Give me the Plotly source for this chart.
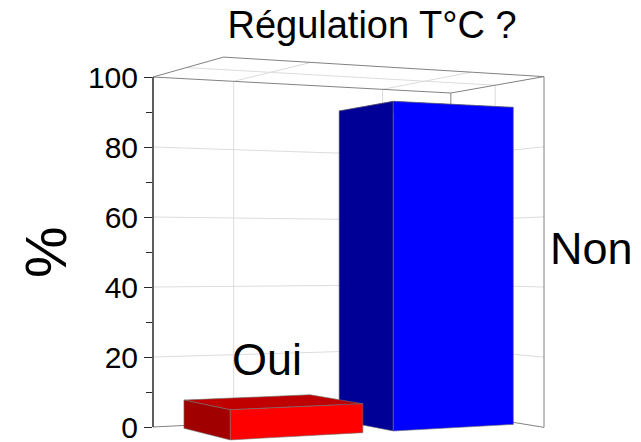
import math
import plotly.graph_objects as go

# data
categories = ["Oui", "Non"]
values = [8, 92]
y_ticks = [0, 20, 40, 60, 80, 100]
y_minor = [10, 30, 50, 70, 90]
chart_title = "Régulation T°C ?"
y_title = "%"

FACE_COLORS = {
    "Oui": ("rgb(255,0,0)", "rgb(160,0,0)", "rgb(192,0,0)"),    # front, side, top
    "Non": ("rgb(0,0,255)", "rgb(0,0,150)", "rgb(0,0,192)"),
}

W, H = 641, 442
AX_X = 153          # pixel column of the value axis
PX0, PPU = 427, 3.5 # pixel of value 0 and pixels per unit on that axis

# camera (level, two point perspective)
F = 1638.0
U0 = 350.0
CZ = 48.0
VH = PX0 - PPU * CZ
ALPHA = math.radians(27.2)
CA, SA = math.cos(ALPHA), math.sin(ALPHA)

# box in world units
XW, YD, ZTOP = 98.8, 51.9, 100
A_L, A_D = (AX_X - U0) / PPU, F / PPU
B_L, B_D = A_L + YD * SA, A_D - YD * CA

BAR_X = [26.4, 75.7]
BAR_W = 39.7
BAR_Y = (11.0, 44.5)
GRID_X = [25.0, 74.5]


def proj(X, Y, Z):
    l = B_L + X * CA - Y * SA
    d = B_D + X * SA + Y * CA
    u = U0 + F * l / d
    v = VH + F * (CZ - Z) / d
    return u, (PX0 - v) / PPU


def path(points):
    xs, ys = [], []
    for p in points:
        u, y = proj(*p)
        xs.append(u)
        ys.append(y)
    return xs, ys


def segments(lines):
    xs, ys = [], []
    for a, b in lines:
        x, y = path([a, b])
        xs += x + [None]
        ys += y + [None]
    return xs, ys


fig = go.Figure()

# grid on back walls and ceiling
grid = []
for z in y_ticks[1:-1]:
    grid.append(((0, YD, z), (XW, YD, z)))
    grid.append(((XW, YD, z), (XW, 0, z)))
for gxp in GRID_X:
    grid.append(((gxp, YD, 0), (gxp, YD, ZTOP)))
    grid.append(((gxp, YD, ZTOP), (gxp, 0, ZTOP)))
yc = YD / 2
grid.append(((XW, yc, 0), (XW, yc, ZTOP)))
grid.append(((0, yc, ZTOP), (XW, yc, ZTOP)))
gx, gy = segments(grid)
fig.add_trace(go.Scatter(x=gx, y=gy, mode="lines", line=dict(color="rgb(220,220,220)", width=1),
                         hoverinfo="skip", showlegend=False))

# box edges
edges = [
    ((0, YD, ZTOP), (0, 0, ZTOP)), ((0, 0, ZTOP), (XW, 0, ZTOP)),
    ((0, YD, ZTOP), (XW, YD, ZTOP)), ((XW, YD, ZTOP), (XW, 0, ZTOP)),
    ((XW, 0, 0), (XW, 0, ZTOP)), ((XW, YD, 0), (XW, YD, ZTOP)),
    ((0, YD, 0), (XW, YD, 0)), ((XW, YD, 0), (XW, 0, 0)),
]
ex, ey = segments(edges)
fig.add_trace(go.Scatter(x=ex, y=ey, mode="lines", line=dict(color="rgb(130,130,130)", width=1),
                         hoverinfo="skip", showlegend=False))

# bars, back one first
order = sorted(range(len(categories)), key=lambda i: -BAR_X[i])
for i in order:
    cat, val = categories[i], values[i]
    front, side, top = FACE_COLORS[cat]
    x0, x1 = BAR_X[i] - BAR_W / 2, BAR_X[i] + BAR_W / 2
    y0, y1 = BAR_Y
    faces = [
        (top, [(x0, y0, val), (x1, y0, val), (x1, y1, val), (x0, y1, val), (x0, y0, val)]),
        (side, [(x0, y0, 0), (x0, y1, 0), (x0, y1, val), (x0, y0, val), (x0, y0, 0)]),
        (front, [(x0, y0, 0), (x1, y0, 0), (x1, y0, val), (x0, y0, val), (x0, y0, 0)]),
    ]
    for color, pts in faces:
        fx, fy = path(pts)
        fig.add_trace(go.Scatter(x=fx, y=fy, mode="lines", fill="toself", fillcolor=color,
                                 line=dict(color="rgb(110,110,110)", width=0.6),
                                 name=cat, hoverinfo="skip", showlegend=False))

# category labels
label_pos = {"Oui": (267, 19.4), "Non": (591, 51.0)}
for cat in categories:
    lx, ly = label_pos[cat]
    fig.add_annotation(x=lx, y=ly, xref="x", yref="y", text=cat, showarrow=False,
                       xanchor="center", yanchor="middle",
                       font=dict(size=45, color="black"))

fig.add_annotation(x=(45 - AX_X) / (W - AX_X), y=(H - 252) / H, xref="paper", yref="paper",
                   text=y_title, textangle=-90, showarrow=False,
                   xanchor="center", yanchor="middle",
                   font=dict(size=58, color="black"))

# value axis line from 0 to 100
fig.add_shape(type="line", xref="paper", yref="y", x0=0, x1=0, y0=0, y1=100,
              line=dict(color="rgb(40,40,40)", width=1.5))

fig.update_layout(
    width=W, height=H,
    margin=dict(l=AX_X, r=0, t=0, b=0, autoexpand=False),
    paper_bgcolor="white", plot_bgcolor="white",
    font=dict(family="Liberation Sans, Arial, sans-serif", color="black"),
    title=dict(text=chart_title, x=372 / W, y=1 - 25 / H, xref="container", yref="container",
               xanchor="center", yanchor="middle", font=dict(size=38, color="black")),
    showlegend=False,
)
fig.update_xaxes(range=[AX_X, W], visible=False)
fig.update_yaxes(
    range=[(PX0 - H) / PPU, PX0 / PPU],
    tickvals=y_ticks, ticks="outside", ticklen=8, tickwidth=1, tickcolor="rgb(40,40,40)",
    tickfont=dict(size=30, color="black"), ticklabeloverflow="allow",
    minor=dict(tickvals=y_minor, ticks="outside", ticklen=6, tickwidth=1, tickcolor="rgb(40,40,40)"),
    showgrid=False, zeroline=False, showline=False,
)

fig.write_html("out.html", config={"displayModeBar": False},
               post_script="document.body.style.margin='0';")
